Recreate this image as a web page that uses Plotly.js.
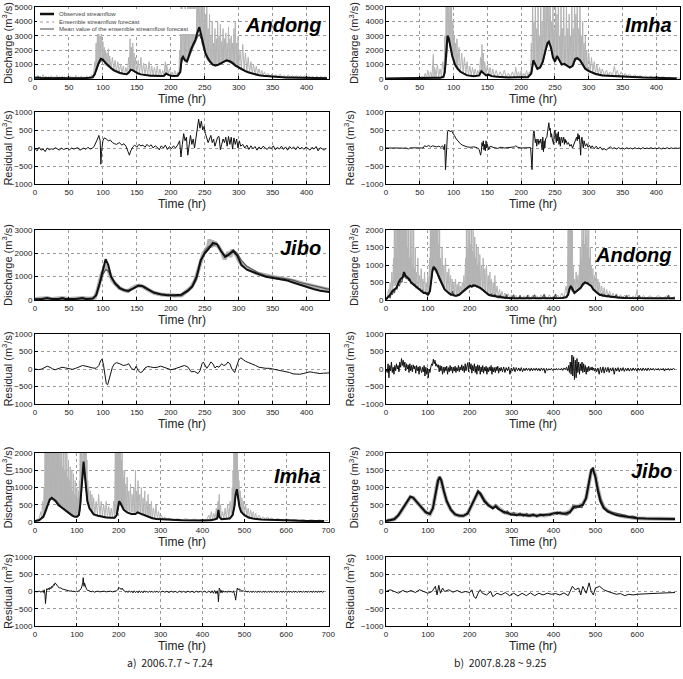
<!DOCTYPE html>
<html><head><meta charset="utf-8">
<script src="https://cdn.plot.ly/plotly-3.0.1.min.js"></script>
<style>html,body{margin:0;padding:0;background:#fff}#chart{width:683px;height:679px}</style>
</head><body><div id="chart"></div>
<script>
// ---------- DATA: [time (hr), discharge or residual (m3/s)] ----------
// a) 2006.7.7~7.24 : Andong
const obsA1 = [[0,80],[5,100],[10,60],[15,90],[20,70],[25,60],[30,80],[35,60],[40,70],[45,60],[50,70],[55,60],[60,80],[65,70],[70,60],[75,70],[80,80],[85,120],[88,350],[91,800],[94,1150],[97,1400],[100,1350],[104,1100],[108,900],[112,750],[116,600],[120,500],[125,420],[130,360],[135,330],[138,450],[141,650],[144,600],[148,480],[152,380],[156,320],[160,280],[165,250],[170,230],[175,220],[180,200],[185,200],[190,230],[193,380],[196,300],[200,220],[205,200],[210,220],[214,500],[216,1400],[218,1550],[221,1300],[224,1250],[227,1700],[230,2100],[233,2400],[236,2700],[239,3200],[242,3600],[245,3000],[248,2300],[251,1800],[254,1500],[258,1200],[262,1000],[266,950],[270,1000],[274,1100],[278,1250],[282,1300],[286,1250],[290,1150],[295,950],[300,800],[305,650],[310,550],[315,450],[320,380],[325,320],[330,260],[340,200],[350,160],[360,130],[370,110],[380,100],[390,90],[400,80],[410,70],[420,70],[430,60]];
const meanA1 = [[0,70],[10,80],[20,60],[30,70],[40,60],[50,70],[60,70],[70,60],[80,70],[85,100],[88,300],[91,700],[94,1050],[97,1250],[100,1300],[104,1150],[108,950],[112,800],[116,650],[120,550],[125,450],[130,380],[135,350],[138,420],[141,600],[144,620],[148,500],[152,400],[156,330],[160,290],[165,260],[170,240],[175,220],[180,210],[185,200],[190,220],[193,330],[196,310],[200,230],[205,200],[210,210],[214,450],[216,1200],[218,1450],[221,1250],[224,1150],[227,1550],[230,1950],[233,2250],[236,2550],[239,2900],[242,3100],[245,2800],[248,2200],[251,1750],[254,1400],[258,1150],[262,950],[266,900],[270,950],[274,1050],[278,1200],[282,1250],[286,1200],[290,1100],[295,900],[300,750],[305,620],[310,520],[315,430],[320,360],[325,300],[330,250],[340,190],[350,150],[360,120],[370,100],[380,90],[390,80],[400,70],[410,60],[420,60],[430,50]];
const ensA1 = [[0,150],[2,60],[4,250],[6,80],[8,180],[10,60],[12,300],[14,70],[16,200],[18,60],[20,150],[22,60],[24,220],[26,70],[28,160],[30,60],[32,250],[34,70],[36,150],[38,60],[40,200],[42,60],[44,150],[46,60],[48,180],[50,60],[52,220],[54,70],[56,150],[58,60],[60,260],[62,70],[64,160],[66,60],[68,200],[70,60],[72,150],[74,60],[76,220],[78,70],[80,180],[82,80],[84,300],[86,150],[88,1200],[89,300],[90,2500],[91,600],[92,3500],[93,900],[94,3800],[95,1100],[96,3000],[97,1200],[98,3600],[99,1300],[100,2600],[101,1200],[102,2200],[103,1000],[104,2000],[105,900],[106,1800],[107,850],[108,2100],[109,800],[110,1600],[112,700],[114,1500],[116,600],[118,1300],[120,500],[122,1200],[124,450],[126,1000],[128,400],[130,900],[132,350],[134,800],[136,330],[138,1500],[139,500],[140,2800],[141,600],[142,2200],[143,600],[144,2500],[145,550],[146,1800],[147,500],[148,1500],[150,400],[152,1300],[154,350],[156,1500],[158,300],[160,1100],[162,280],[164,1000],[166,260],[168,1200],[170,240],[172,900],[174,230],[176,800],[178,220],[180,900],[182,210],[184,700],[186,200],[188,600],[190,230],[192,1200],[193,400],[194,1000],[196,300],[198,700],[200,220],[202,500],[204,200],[206,600],[208,200],[210,500],[212,250],[213,2000],[214,600],[215,5500],[216,1300],[217,5500],[218,1400],[219,4500],[220,1300],[221,5500],[222,1200],[223,4000],[224,1200],[225,5500],[226,1500],[227,5500],[228,1800],[229,5500],[230,2000],[231,5500],[232,2200],[233,5500],[234,2500],[235,5500],[236,2600],[237,5500],[238,3000],[239,5500],[240,3200],[241,5500],[242,3300],[243,5500],[244,2800],[245,5500],[246,2400],[247,5500],[248,2000],[249,5500],[250,1700],[251,4500],[252,1500],[253,5500],[254,1300],[255,3500],[256,1200],[257,4500],[258,1100],[259,3000],[260,1000],[261,4000],[262,950],[263,2500],[264,900],[265,3500],[266,900],[267,2800],[268,950],[269,4000],[270,1000],[271,3000],[272,1050],[273,3800],[274,1100],[275,2600],[276,1150],[277,3500],[278,1200],[279,2800],[280,1250],[281,3200],[282,1250],[283,2500],[284,1200],[285,3600],[286,1150],[287,2800],[288,1100],[289,3000],[290,1050],[291,2500],[292,1000],[293,3500],[294,950],[295,4000],[296,900],[297,2500],[298,850],[299,3000],[300,800],[302,2000],[304,700],[306,2400],[308,600],[310,1800],[312,500],[314,1500],[316,450],[318,1200],[320,380],[322,1000],[324,330],[326,900],[328,300],[330,700],[332,260],[334,600],[336,230],[338,500],[340,200],[343,400],[346,180],[349,350],[352,160],[355,300],[358,140],[361,350],[364,120],[367,250],[370,110],[373,300],[376,100],[379,220],[382,100],[385,250],[388,90],[391,200],[394,90],[397,230],[400,80],[403,200],[406,80],[409,180],[412,70],[415,200],[418,70],[421,180],[424,70],[427,160],[430,60]];
const resA1 = [[0,-20],[3,-80],[6,20],[9,-60],[12,-30],[15,-100],[18,0],[21,-50],[24,-20],[27,-40],[30,10],[33,-30],[36,-60],[39,0],[42,-40],[45,-20],[48,-10],[51,-50],[54,0],[57,-30],[60,-20],[63,10],[66,-60],[69,-20],[72,0],[75,-40],[78,20],[81,-30],[84,-10],[87,40],[90,150],[92,250],[94,350],[96,200],[97,-450],[98,-100],[100,200],[102,280],[105,250],[108,200],[111,220],[114,150],[117,120],[120,100],[124,150],[128,80],[131,120],[134,50],[137,-100],[139,-200],[141,-80],[144,30],[147,80],[150,20],[153,100],[156,60],[159,80],[162,20],[165,100],[168,40],[171,90],[174,0],[177,60],[180,20],[183,-50],[186,60],[189,0],[192,80],[195,-40],[198,40],[201,-20],[204,60],[207,0],[210,80],[213,200],[215,-250],[217,100],[219,400],[221,200],[223,300],[225,-200],[227,150],[229,350],[231,100],[233,250],[235,0],[237,300],[239,600],[241,800],[243,550],[245,750],[247,500],[249,600],[251,400],[253,300],[255,150],[257,250],[259,350],[261,150],[263,250],[265,50],[267,150],[269,300],[271,320],[273,-50],[275,100],[277,250],[279,150],[281,300],[283,50],[285,320],[287,100],[289,300],[291,-30],[293,280],[295,100],[297,250],[299,0],[301,200],[303,50],[306,100],[309,0],[312,80],[315,-40],[318,60],[321,-20],[324,40],[327,-60],[330,30],[333,-30],[336,50],[339,0],[342,-40],[345,30],[348,-20],[351,60],[354,-50],[357,20],[360,-30],[363,50],[366,-40],[369,30],[372,-60],[375,40],[378,-20],[381,30],[384,-50],[387,40],[390,-30],[393,20],[396,-40],[399,30],[402,-20],[405,-60],[408,20],[411,-30],[414,40],[417,-80],[420,10],[423,-30],[426,-60],[429,0]];

// b) 2007 column top : Imha (0-430 hr)
const obsB1 = [[0,30],[10,30],[20,30],[30,30],[40,30],[50,30],[55,40],[60,80],[70,80],[80,90],[85,150],[87,500],[89,1500],[91,3000],[93,2800],[95,2200],[98,1600],[102,1000],[106,700],[110,500],[115,350],[120,250],[130,200],[138,250],[141,550],[144,400],[148,250],[152,300],[156,200],[165,150],[180,100],[195,120],[210,120],[215,400],[218,1300],[221,1000],[224,700],[228,800],[232,1200],[236,2000],[239,2500],[241,2600],[244,2200],[247,1500],[250,1200],[253,1600],[256,1300],[260,1000],[264,1050],[268,900],[272,800],[276,900],[280,1400],[283,1450],[287,1300],[291,1000],[295,700],[300,550],[305,450],[310,350],[320,250],[330,220],[340,200],[350,180],[360,150],[380,100],[400,80],[430,40]];
const meanB1 = [[0,20],[10,30],[20,25],[30,30],[40,25],[50,30],[55,40],[60,60],[70,70],[80,80],[85,120],[87,400],[89,1300],[91,2800],[93,2700],[95,2200],[98,1600],[102,1050],[106,750],[110,540],[115,380],[120,270],[130,210],[138,250],[141,500],[144,420],[148,280],[152,280],[156,210],[165,160],[180,110],[195,120],[210,120],[215,350],[218,1200],[221,1000],[224,700],[228,780],[232,1150],[236,1900],[239,2400],[241,2500],[244,2200],[247,1550],[250,1250],[253,1550],[256,1300],[260,1050],[264,1000],[268,900],[272,820],[276,900],[280,1300],[283,1400],[287,1300],[291,1050],[295,750],[300,580],[305,470],[310,370],[320,270],[330,230],[340,210],[350,190],[360,160],[380,110],[400,90],[430,50]];
const ensB1 = [[0,20],[5,60],[10,20],[15,50],[20,20],[25,60],[30,20],[35,50],[40,20],[45,60],[50,30],[54,200],[56,50],[58,400],[60,80],[62,600],[64,100],[66,500],[68,100],[70,1700],[71,150],[72,800],[74,150],[76,1000],[78,150],[80,700],[82,200],[84,1200],[86,300],[87,3000],[88,800],[89,5500],[90,1500],[91,5500],[92,2500],[93,5500],[94,2500],[95,5500],[96,2000],[97,5000],[98,1600],[99,4000],[100,1300],[101,3000],[102,1000],[103,2500],[104,800],[105,2800],[106,700],[108,2200],[110,500],[112,1800],[114,400],[116,1500],[118,300],[120,1200],[122,280],[124,900],[126,250],[128,800],[130,220],[132,700],[134,220],[136,600],[138,250],[140,1500],[141,500],[142,2400],[143,500],[144,1800],[145,400],[146,1200],[148,300],[150,1000],[152,250],[154,800],[156,200],[158,700],[160,180],[163,600],[166,150],[169,500],[172,140],[175,600],[178,130],[181,400],[184,120],[187,500],[190,120],[192,800],[194,150],[196,500],[198,120],[200,600],[202,120],[204,400],[206,130],[208,600],[210,130],[212,500],[214,300],[215,2500],[216,1000],[217,5500],[218,1300],[219,4000],[220,1000],[221,5500],[222,800],[223,3500],[224,700],[225,5500],[226,750],[227,3000],[228,800],[229,5500],[230,900],[231,4000],[232,1200],[233,5500],[234,1600],[235,5500],[236,2000],[237,5500],[238,2400],[239,5500],[240,2500],[241,5500],[242,2500],[243,5500],[244,2200],[245,4000],[246,1800],[247,5500],[248,1400],[249,3500],[250,1200],[251,5500],[252,1400],[253,4500],[254,1500],[255,5500],[256,1300],[257,3000],[258,1100],[259,5500],[260,1000],[261,3500],[262,1000],[263,5500],[264,1050],[265,3000],[266,1000],[267,5500],[268,900],[269,3500],[270,850],[271,4500],[272,800],[273,3000],[274,850],[275,5500],[276,900],[277,3500],[278,1100],[279,5500],[280,1400],[281,4500],[282,1450],[283,5500],[284,1400],[285,3500],[286,1300],[287,5500],[288,1200],[289,3000],[290,1000],[291,4000],[292,900],[293,2500],[294,750],[295,3000],[296,700],[297,2000],[298,600],[300,1800],[302,550],[304,1500],[306,450],[308,1200],[310,350],[312,1000],[314,300],[316,800],[318,280],[320,700],[323,260],[326,600],[329,240],[332,500],[335,220],[338,900],[340,210],[342,600],[345,200],[348,500],[351,180],[354,400],[357,160],[360,350],[364,150],[368,300],[372,130],[376,250],[380,110],[384,220],[388,100],[392,200],[396,90],[400,180],[405,80],[410,150],[415,70],[420,130],[425,60],[430,100],[435,40]];
const resB1 = [[0,0],[5,5],[10,-5],[15,5],[20,0],[25,-5],[30,0],[33,-30],[35,0],[40,5],[45,0],[50,5],[55,0],[57,60],[60,40],[63,70],[66,30],[69,60],[72,40],[75,30],[78,50],[81,20],[84,60],[86,-50],[87,100],[88,-600],[89,-300],[90,300],[91,450],[93,500],[95,450],[97,480],[99,400],[101,350],[104,250],[107,180],[110,120],[113,80],[116,50],[120,30],[125,20],[130,30],[135,10],[138,-50],[140,-200],[141,-100],[142,150],[143,50],[144,200],[145,-50],[146,100],[147,-80],[148,200],[149,0],[150,100],[152,-50],[154,50],[157,20],[160,10],[165,-10],[170,20],[175,0],[180,10],[185,0],[190,30],[192,60],[195,20],[200,0],[205,10],[210,5],[214,10],[216,-600],[217,100],[218,400],[219,480],[220,300],[221,150],[222,250],[223,50],[224,200],[225,250],[226,100],[227,200],[228,150],[229,250],[230,100],[231,-50],[232,300],[233,-100],[234,200],[235,0],[236,250],[238,300],[239,450],[240,600],[241,700],[242,500],[243,550],[244,300],[245,400],[246,250],[247,200],[248,100],[249,450],[250,500],[251,300],[252,150],[253,400],[254,200],[255,450],[256,100],[257,300],[258,50],[259,250],[260,300],[261,150],[262,200],[263,300],[264,100],[265,250],[266,150],[267,200],[268,100],[270,150],[272,50],[274,100],[276,0],[278,100],[280,150],[282,300],[283,200],[284,400],[285,250],[286,350],[287,100],[288,-200],[289,250],[290,300],[291,100],[292,0],[293,200],[295,50],[297,120],[299,20],[301,80],[303,0],[305,60],[308,-20],[311,50],[314,-30],[317,30],[320,-50],[323,-20],[326,-60],[329,0],[332,30],[335,-20],[338,10],[341,-30],[344,10],[347,-20],[350,0],[353,-30],[356,10],[359,-20],[362,0],[365,-30],[368,10],[371,-20],[374,0],[377,-30],[380,10],[383,-20],[386,0],[389,-20],[392,10],[395,-20],[398,0],[401,-20],[404,10],[407,-30],[410,0],[413,-20],[416,10],[419,-20],[422,5],[425,-15],[428,0],[431,-10],[435,0]];

// a) Jibo
const obsA2 = [[0,30],[10,40],[18,80],[25,40],[35,40],[40,80],[45,40],[60,40],[70,80],[75,40],[85,60],[90,200],[95,700],[100,1300],[104,1750],[108,1500],[112,1000],[118,700],[125,500],[132,420],[138,400],[145,500],[152,620],[158,600],[165,480],[175,320],[185,250],[195,200],[205,200],[215,220],[225,400],[232,600],[238,1000],[244,1700],[250,2000],[256,2200],[262,2450],[268,2400],[274,2100],[280,1850],[286,1950],[292,2100],[298,1900],[304,1500],[312,1300],[320,1200],[330,1100],[340,1000],[350,950],[360,900],[370,850],[380,750],[390,650],[400,550],[410,470],[420,400],[430,350],[435,330]];
const meanA2 = [[0,30],[10,40],[18,70],[25,40],[35,40],[40,70],[45,40],[60,40],[70,70],[75,40],[85,60],[90,180],[95,600],[100,1100],[104,1300],[108,1250],[112,1000],[118,750],[125,550],[132,400],[138,350],[145,520],[152,600],[158,580],[165,450],[175,300],[185,230],[195,200],[205,180],[215,180],[225,350],[232,550],[238,900],[244,1600],[250,2100],[256,2300],[262,2350],[268,2400],[274,2100],[280,1900],[286,2000],[292,2150],[298,2000],[304,1700],[312,1450],[320,1300],[330,1150],[340,1050],[350,1000],[360,950],[370,900],[380,850],[390,750],[400,680],[410,600],[420,520],[430,480],[435,460]];
const ensA2 = [[0,40],[10,50],[18,90],[25,40],[40,90],[50,40],[70,90],[80,50],[88,100],[92,400],[95,800],[98,1100],[101,1300],[104,1450],[107,1350],[110,1100],[114,850],[118,700],[124,520],[130,430],[136,380],[142,480],[148,580],[154,620],[160,560],[168,420],[176,300],[186,240],[196,200],[206,190],[216,200],[224,380],[230,550],[236,850],[240,1200],[244,1650],[248,2000],[252,2150],[255,2300],[257,2600],[259,2250],[261,2550],[263,2300],[265,2500],[267,2350],[270,2300],[273,2150],[276,2000],[279,1750],[282,1900],[285,2050],[288,1850],[290,2150],[292,2050],[295,2000],[298,1850],[301,1650],[305,1500],[310,1400],[318,1270],[326,1150],[335,1080],[345,1000],[355,960],[365,920],[375,870],[385,780],[395,700],[405,620],[415,540],[425,470],[435,420]];
const resA2 = [[0,0],[5,-20],[10,0],[15,50],[18,80],[22,50],[26,0],[30,-20],[35,10],[40,50],[45,30],[50,0],[55,-10],[60,20],[65,50],[70,100],[75,80],[80,50],[85,30],[90,20],[94,100],[97,250],[99,280],[101,100],[103,-200],[105,-420],[107,-450],[109,-300],[111,-100],[114,50],[117,150],[120,180],[125,150],[130,100],[135,120],[138,150],[142,20],[146,-30],[149,80],[152,-50],[155,-100],[158,-80],[162,30],[166,70],[170,60],[175,40],[180,50],[185,80],[190,50],[195,20],[200,-20],[205,0],[210,40],[215,80],[220,100],[225,60],[230,-80],[235,-70],[240,-130],[243,-50],[246,150],[248,200],[251,100],[253,20],[256,100],[259,200],[262,150],[265,30],[268,80],[271,50],[275,150],[278,100],[281,120],[284,200],[287,150],[290,0],[294,-100],[297,50],[300,250],[303,320],[306,280],[310,220],[315,180],[320,150],[325,100],[330,50],[335,30],[340,20],[345,20],[350,0],[355,-10],[360,-30],[365,-50],[370,-80],[375,-100],[380,-140],[385,-150],[390,-150],[395,-130],[400,-100],[405,-80],[410,-100],[415,-120],[420,-130],[425,-120],[430,-110],[435,-110]];

// b) Andong (0-700 hr)
const obsB2 = [[0,20],[5,80],[10,150],[15,250],[20,300],[25,350],[30,500],[35,600],[40,650],[43,800],[46,700],[50,650],[55,600],[60,500],[65,450],[70,400],[75,350],[80,300],[85,250],[90,200],[95,200],[100,150],[105,250],[108,600],[111,850],[114,950],[117,900],[120,850],[125,700],[130,550],[135,400],[140,300],[145,250],[150,200],[155,150],[160,150],[165,120],[170,130],[175,150],[180,200],[185,250],[190,300],[195,350],[200,400],[205,380],[210,420],[215,400],[220,380],[225,350],[230,300],[235,250],[240,200],[245,150],[250,130],[255,120],[260,100],[270,80],[280,70],[290,60],[300,50],[320,50],[340,50],[360,50],[380,50],[400,50],[420,60],[430,80],[435,150],[438,300],[441,400],[444,350],[447,250],[450,200],[455,250],[460,300],[465,350],[470,450],[475,500],[480,480],[485,450],[490,400],[495,300],[500,250],[505,200],[510,150],[520,120],[530,100],[540,80],[550,80],[570,60],[600,50],[630,50],[660,50],[690,50]];
const meanB2 = [[0,10],[4,60],[8,120],[10,50],[12,200],[15,150],[18,300],[20,200],[23,350],[26,300],[29,450],[32,400],[35,550],[38,500],[41,700],[44,650],[46,750],[48,600],[51,650],[54,550],[57,600],[60,480],[63,500],[66,420],[69,450],[72,350],[75,380],[78,300],[81,320],[84,250],[87,280],[90,200],[93,230],[96,170],[99,200],[102,150],[105,300],[108,550],[111,800],[113,950],[115,850],[117,900],[120,780],[123,750],[126,620],[129,550],[132,450],[135,400],[138,330],[141,300],[144,250],[147,230],[150,180],[153,200],[156,140],[159,250],[162,120],[165,130],[168,110],[171,150],[174,160],[177,180],[180,220],[183,260],[186,280],[189,320],[192,340],[195,380],[198,350],[201,420],[204,380],[207,430],[210,400],[213,420],[216,380],[219,400],[222,350],[225,330],[228,300],[231,280],[234,240],[237,220],[240,180],[243,160],[246,150],[249,130],[252,180],[254,110],[257,100],[260,170],[262,90],[266,80],[270,60],[273,150],[275,60],[280,60],[285,50],[288,160],[290,50],[295,40],[300,40],[305,150],[307,40],[312,40],[318,40],[320,130],[322,40],[328,40],[335,40],[338,140],[340,40],[348,40],[355,150],[357,40],[365,40],[372,40],[378,160],[380,40],[388,40],[395,40],[400,40],[405,170],[407,40],[415,50],[425,60],[432,80],[435,200],[437,350],[439,300],[441,420],[443,300],[446,250],[449,200],[452,220],[455,250],[458,270],[461,320],[464,350],[467,380],[470,420],[473,460],[476,500],[479,470],[482,490],[485,430],[488,420],[491,380],[494,330],[497,300],[500,260],[503,220],[506,190],[509,160],[512,140],[515,180],[518,110],[521,160],[524,100],[528,90],[532,150],[535,80],[540,80],[545,70],[550,150],[552,60],[560,60],[570,50],[575,130],[577,50],[585,50],[595,50],[600,50],[605,130],[607,50],[615,40],[625,40],[640,40],[655,40],[670,40],[675,140],[677,40],[690,40]];
const ensB2 = [[0,20],[3,100],[6,300],[8,150],[10,500],[12,200],[14,800],[16,300],[18,1200],[19,400],[20,2500],[21,500],[22,2500],[23,400],[24,1500],[25,450],[26,2500],[27,500],[28,2500],[29,500],[30,2500],[31,550],[32,2500],[33,600],[34,2500],[35,600],[36,2500],[37,650],[38,2500],[39,700],[40,2500],[41,700],[42,2500],[43,750],[44,2500],[45,700],[46,2500],[47,700],[48,2000],[49,650],[50,2500],[51,650],[52,1500],[53,600],[54,2500],[55,600],[56,1200],[57,550],[58,2500],[59,550],[60,1300],[61,500],[62,2500],[63,500],[64,1000],[65,450],[66,2500],[67,450],[68,900],[69,420],[70,1500],[71,400],[72,800],[74,380],[76,1200],[78,350],[80,700],[82,300],[84,900],[86,270],[88,600],[90,250],[92,800],[94,200],[96,500],[98,200],[100,700],[102,180],[104,1200],[105,300],[106,2500],[107,500],[108,2500],[109,700],[110,2500],[111,850],[112,2500],[113,950],[114,2500],[115,900],[116,2500],[117,900],[118,2500],[119,850],[120,2500],[121,800],[122,2000],[123,750],[124,2500],[125,700],[126,1600],[127,650],[128,2000],[129,600],[130,1200],[132,500],[134,1500],[136,400],[138,1000],[140,350],[142,1200],[144,300],[146,800],[148,250],[150,900],[152,220],[154,700],[156,200],[158,600],[160,170],[162,500],[164,150],[166,600],[168,140],[170,450],[172,150],[174,500],[176,170],[178,400],[180,200],[182,500],[184,250],[186,700],[188,280],[190,1200],[191,300],[192,2000],[193,330],[194,1500],[195,350],[196,2500],[197,380],[198,1700],[199,400],[200,2500],[201,400],[202,1600],[203,400],[204,2200],[205,400],[206,1400],[207,420],[208,2000],[209,400],[210,1300],[211,400],[212,1800],[213,400],[214,1200],[215,400],[216,1600],[217,380],[218,1000],[219,380],[220,1500],[221,350],[222,1100],[223,350],[224,1300],[226,330],[228,1000],[230,300],[232,1200],[234,250],[236,900],[238,220],[240,1000],[242,180],[244,700],[246,150],[248,800],[250,130],[252,600],[254,110],[256,500],[258,100],[260,700],[262,90],[265,400],[268,80],[271,300],[274,70],[277,250],[280,60],[284,200],[288,50],[292,180],[296,50],[300,150],[305,50],[310,130],[315,50],[320,140],[325,50],[330,120],[335,50],[340,150],[345,50],[350,130],[355,50],[360,120],[365,50],[370,140],[375,50],[380,120],[385,50],[390,150],[395,50],[400,120],[405,50],[410,140],[415,50],[420,200],[425,60],[430,400],[433,100],[435,2500],[436,200],[437,2500],[438,300],[439,2500],[440,350],[441,2500],[442,300],[443,2500],[444,250],[445,2000],[446,220],[447,1000],[448,200],[450,600],[452,220],[454,800],[456,250],[458,700],[460,280],[462,1000],[463,300],[464,1500],[465,330],[466,1200],[467,350],[468,2500],[469,380],[470,1700],[471,420],[472,2500],[473,450],[474,1600],[475,500],[476,2500],[477,480],[478,1800],[479,470],[480,2500],[481,480],[482,1500],[483,460],[484,2000],[485,430],[486,1200],[487,420],[488,1500],[489,400],[490,1000],[492,350],[494,900],[496,300],[498,700],[500,260],[502,800],[504,220],[506,600],[508,180],[510,500],[512,150],[515,400],[518,120],[521,350],[524,100],[527,300],[530,90],[534,250],[538,80],[542,200],[546,70],[550,180],[555,60],[560,150],[565,60],[570,140],[575,50],[580,150],[585,50],[590,120],[595,50],[600,300],[601,50],[605,120],[610,50],[615,130],[620,40],[630,120],[640,40],[650,130],[660,40],[670,120],[680,40],[690,100]];
const resB2 = [[0,0],[3,-100],[5,150],[7,-250],[9,100],[11,-50],[13,200],[15,-100],[17,50],[19,-150],[21,100],[23,-50],[25,150],[27,0],[29,100],[31,-80],[33,200],[35,50],[37,300],[39,100],[41,250],[43,50],[45,200],[47,-50],[49,150],[51,0],[53,120],[55,-100],[57,150],[59,-50],[61,100],[63,-80],[65,120],[67,0],[69,80],[71,-120],[73,100],[75,-50],[77,60],[79,-150],[81,80],[83,0],[85,-100],[87,50],[89,-80],[91,100],[93,-200],[95,50],[97,-150],[99,30],[101,-250],[103,0],[105,-100],[107,50],[109,150],[111,100],[113,280],[115,150],[117,250],[119,80],[121,150],[123,50],[125,120],[127,-80],[129,100],[131,-50],[133,80],[135,-150],[137,50],[139,-100],[141,60],[143,-50],[145,80],[147,-150],[149,40],[151,-80],[153,100],[155,-50],[157,60],[159,-120],[161,50],[163,-60],[165,80],[167,-100],[169,40],[171,-50],[173,100],[175,-80],[177,60],[179,-30],[181,120],[183,-50],[185,80],[187,-100],[189,150],[191,-50],[193,100],[195,180],[197,-80],[199,200],[201,0],[203,150],[205,-120],[207,100],[209,-50],[211,150],[213,-100],[215,80],[217,-150],[219,120],[221,-50],[223,100],[225,-150],[227,60],[229,-80],[231,100],[233,-120],[235,50],[237,-60],[239,80],[241,-150],[243,40],[245,-80],[247,60],[249,-50],[251,100],[253,-150],[255,50],[257,-80],[259,40],[261,-100],[263,60],[265,-50],[267,80],[269,-120],[271,30],[273,-60],[275,50],[278,-80],[281,60],[284,-100],[287,40],[290,-50],[293,60],[296,-150],[299,30],[302,-60],[305,50],[308,-80],[311,40],[314,-50],[317,30],[320,-60],[323,40],[326,-80],[329,20],[332,-50],[335,30],[338,-40],[341,20],[344,-60],[347,30],[350,-50],[353,20],[356,-40],[359,30],[362,-50],[365,20],[368,-60],[371,30],[374,-40],[377,20],[380,-120],[383,20],[386,-40],[389,10],[392,-30],[395,20],[398,-40],[401,10],[404,-30],[407,20],[410,-20],[413,10],[416,-30],[419,20],[422,-40],[425,30],[428,-20],[431,50],[434,-50],[436,100],[438,-100],[440,200],[442,-150],[444,400],[446,-200],[448,350],[450,-300],[452,250],[454,-250],[456,300],[458,-100],[460,200],[462,-150],[464,150],[466,-50],[468,200],[470,-100],[472,150],[474,-80],[476,100],[478,-150],[480,50],[482,-80],[484,80],[486,-50],[488,40],[490,-30],[492,60],[494,-40],[496,30],[498,-60],[500,20],[503,-80],[506,30],[509,-150],[512,50],[515,-100],[518,60],[521,-120],[524,40],[527,-80],[530,50],[533,-100],[536,30],[539,-60],[542,40],[545,-150],[548,30],[551,-60],[554,40],[557,-80],[560,30],[563,-50],[566,40],[569,-70],[572,20],[575,-50],[578,30],[581,-60],[584,20],[587,-50],[590,30],[593,-40],[596,20],[599,-60],[602,30],[605,-40],[608,20],[611,-50],[614,30],[617,-40],[620,20],[623,-50],[626,30],[629,-40],[632,20],[635,-30],[638,20],[641,-40],[644,10],[647,-30],[650,20],[653,-40],[656,10],[659,-30],[662,20],[665,-60],[668,10],[671,-30],[674,20],[677,-40],[680,10],[683,-30],[686,20],[690,-20]];

// a) Imha (0-700 hr)
const obsA3 = [[0,30],[10,50],[15,100],[20,150],[25,300],[30,450],[35,650],[40,700],[45,650],[50,600],[55,500],[60,450],[65,400],[70,350],[75,300],[80,250],[85,220],[90,180],[95,150],[100,150],[105,200],[108,500],[111,1000],[114,1500],[116,1750],[118,1500],[121,1000],[125,600],[130,400],[135,300],[140,220],[150,180],[160,150],[170,130],[180,120],[190,120],[195,200],[198,400],[201,600],[204,550],[208,450],[212,350],[220,280],[230,230],[240,230],[245,280],[250,250],[260,200],[270,150],[280,110],[290,90],[300,80],[320,60],[350,50],[400,40],[420,50],[430,80],[435,100],[438,350],[440,150],[445,80],[455,90],[465,100],[472,200],[476,450],[479,800],[482,950],[485,700],[488,450],[492,300],[500,200],[510,130],[520,100],[540,70],[560,60],[580,50],[600,40],[650,30],[690,30]];
const meanA3 = [[0,30],[10,60],[15,120],[20,180],[25,350],[30,500],[35,620],[40,680],[45,670],[50,620],[55,540],[60,480],[65,420],[70,370],[75,320],[80,270],[85,230],[90,190],[95,160],[100,150],[105,190],[108,450],[111,900],[114,1350],[116,1600],[118,1450],[121,1000],[125,620],[130,420],[135,310],[140,230],[150,190],[160,160],[170,140],[180,125],[190,120],[195,180],[198,370],[201,560],[204,530],[208,440],[212,350],[220,290],[230,240],[240,240],[245,280],[250,260],[260,210],[270,160],[280,120],[290,95],[300,85],[320,65],[350,55],[400,45],[420,55],[430,80],[435,100],[438,250],[440,160],[445,90],[455,95],[465,110],[472,210],[476,420],[479,750],[482,900],[485,700],[488,460],[492,310],[500,210],[510,140],[520,105],[540,75],[560,65],[580,55],[600,45],[650,35],[690,35]];
const ensA3 = [[0,30],[5,60],[10,100],[14,300],[16,100],[18,600],[20,150],[22,1000],[23,200],[24,2500],[25,300],[26,2500],[27,400],[28,2500],[29,450],[30,2500],[31,500],[32,2500],[33,550],[34,2500],[35,600],[36,2500],[37,650],[38,2500],[39,650],[40,2500],[41,650],[42,2500],[43,620],[44,2500],[45,600],[46,2500],[47,580],[48,2500],[49,560],[50,2500],[51,540],[52,2500],[53,520],[54,2500],[55,500],[56,2500],[57,480],[58,2000],[59,460],[60,2500],[61,450],[62,1800],[63,430],[64,2500],[65,400],[66,1600],[67,380],[68,2500],[69,360],[70,1500],[71,350],[72,2200],[73,330],[74,1500],[75,300],[76,2000],[77,280],[78,1300],[79,260],[80,1800],[81,250],[82,1200],[83,230],[84,1600],[85,220],[86,1000],[87,200],[88,1500],[89,190],[90,900],[91,180],[92,1400],[93,170],[94,800],[95,160],[96,1200],[97,160],[98,800],[99,160],[100,1000],[101,160],[102,700],[103,170],[104,900],[105,200],[106,1200],[107,300],[108,2500],[109,500],[110,2500],[111,900],[112,2500],[113,1200],[114,2500],[115,1500],[116,2500],[117,1600],[118,2500],[119,1400],[120,2500],[121,1000],[122,2500],[123,700],[124,1800],[125,600],[126,1200],[127,500],[128,1000],[130,400],[132,900],[134,330],[136,800],[138,260],[140,700],[143,220],[146,600],[149,200],[152,800],[155,180],[158,600],[161,160],[164,500],[167,150],[170,600],[173,140],[176,450],[179,130],[182,400],[185,120],[188,600],[190,150],[192,2500],[193,250],[194,2500],[195,300],[196,2500],[197,400],[198,2500],[199,500],[200,2500],[201,600],[202,2500],[203,580],[204,2200],[205,550],[206,1800],[207,500],[208,2000],[209,450],[210,1500],[211,420],[212,1300],[213,400],[214,1500],[215,380],[216,1100],[218,350],[220,1300],[222,320],[224,900],[226,300],[228,1100],[230,280],[232,800],[234,270],[236,1000],[238,270],[240,1500],[241,280],[242,900],[244,290],[246,1200],[248,280],[250,800],[252,250],[254,1000],[256,230],[258,700],[260,200],[262,900],[264,180],[266,600],[268,160],[270,800],[272,140],[274,500],[276,120],[278,600],[280,110],[283,400],[286,100],[289,500],[292,90],[295,300],[298,80],[302,200],[306,70],[310,150],[315,60],[320,120],[330,50],[340,100],[350,50],[360,100],[370,40],[380,90],[390,40],[400,80],[410,60],[415,200],[418,60],[421,300],[424,70],[427,250],[430,90],[433,400],[435,100],[437,600],[438,300],[440,800],[441,150],[443,500],[445,90],[448,300],[451,90],[454,400],[457,100],[460,500],[463,110],[466,600],[469,150],[471,1000],[472,200],[473,1500],[474,300],[475,2500],[476,450],[477,2500],[478,700],[479,2500],[480,850],[481,2500],[482,950],[483,2500],[484,800],[485,1500],[486,700],[487,1200],[488,500],[490,900],[492,350],[494,700],[496,280],[498,600],[500,220],[503,500],[506,180],[509,400],[512,140],[515,350],[518,120],[521,300],[524,100],[527,250],[530,90],[535,200],[540,80],[545,150],[550,70],[555,150],[560,60],[565,120],[570,55],[580,100],[590,50],[600,90],[610,45],[620,80],[630,40],[640,70],[650,35],[660,70],[670,35],[680,60],[690,30],[700,50]];
const resA3 = [[0,0],[5,-10],[10,10],[15,-20],[18,20],[20,-30],[22,50],[24,-100],[25,-350],[26,-50],[28,80],[30,50],[32,100],[34,50],[36,120],[38,80],[40,150],[42,120],[44,200],[46,180],[48,250],[50,220],[52,180],[54,150],[56,130],[58,100],[60,110],[63,80],[66,70],[69,60],[72,50],[75,40],[78,20],[81,30],[84,10],[87,20],[90,0],[93,10],[96,-10],[99,10],[102,0],[105,20],[108,50],[110,80],[112,150],[114,250],[115,400],[116,300],[117,150],[118,250],[119,200],[120,150],[122,100],[124,50],[126,30],[130,20],[134,-10],[138,10],[142,-20],[146,0],[150,10],[155,-10],[160,0],[165,10],[170,-10],[175,0],[180,10],[185,-10],[190,0],[195,20],[198,60],[200,120],[202,100],[204,80],[206,60],[208,100],[210,50],[213,30],[216,-20],[219,10],[222,-30],[225,20],[228,-20],[231,10],[234,-40],[237,20],[240,-30],[243,10],[246,-40],[249,20],[252,-30],[255,10],[258,-40],[261,20],[264,-20],[267,10],[270,-30],[273,10],[276,-20],[279,10],[282,-30],[285,10],[288,-20],[291,10],[294,-30],[297,5],[300,-20],[305,10],[310,-20],[315,5],[320,-30],[325,10],[330,-20],[335,5],[340,-30],[345,10],[350,-20],[355,5],[360,-30],[365,10],[370,-20],[375,5],[380,-30],[385,10],[390,-20],[395,5],[400,-20],[405,10],[410,-30],[415,10],[420,-40],[423,20],[426,-50],[429,30],[432,-60],[435,20],[437,-100],[438,-300],[439,-150],[440,100],[442,50],[444,-40],[446,30],[448,-30],[450,20],[453,-20],[456,10],[459,-30],[462,20],[465,-20],[468,10],[471,-30],[474,20],[476,-50],[478,-150],[479,-250],[480,-100],[481,50],[483,100],[485,50],[487,80],[489,30],[491,50],[494,0],[497,30],[500,-10],[503,20],[506,-20],[509,10],[512,-20],[515,10],[518,-30],[521,10],[524,-20],[527,10],[530,-30],[533,10],[536,-20],[539,10],[542,-30],[545,10],[548,-20],[551,10],[554,-30],[557,10],[560,-20],[563,10],[566,-30],[569,10],[572,-20],[575,10],[578,-30],[581,10],[584,-20],[587,10],[590,-30],[593,10],[596,-20],[599,10],[602,-30],[605,10],[608,-20],[611,10],[614,-30],[617,10],[620,-20],[623,10],[626,-30],[629,10],[632,-20],[635,10],[638,-30],[641,10],[644,-20],[647,10],[650,-30],[653,10],[656,-20],[659,10],[662,-30],[665,10],[668,-20],[671,10],[674,-30],[677,10],[680,-20],[683,10],[686,-20],[690,0]];

// b) Jibo (0-700 hr)
const obsB3 = [[0,30],[10,50],[20,80],[30,200],[40,400],[50,600],[58,730],[65,700],[75,550],[85,400],[95,280],[105,230],[112,400],[118,800],[124,1200],[128,1300],[132,1200],[138,900],[145,600],[155,350],[165,220],[175,180],[185,180],[195,250],[205,500],[213,750],[220,880],[226,800],[235,600],[245,480],[255,400],[262,450],[268,380],[280,300],[290,250],[300,220],[310,200],[320,220],[330,200],[340,180],[350,200],[360,180],[370,200],[380,200],[390,220],[400,250],[410,270],[420,250],[430,250],[440,300],[450,450],[460,450],[470,500],[478,700],[485,1200],[490,1500],[494,1550],[500,1300],[506,900],[512,600],[520,400],[530,300],[540,250],[550,200],[560,180],[570,160],[580,140],[590,120],[600,110],[620,100],[640,100],[660,90],[690,90]];
const meanB3 = [[0,40],[10,60],[20,100],[30,220],[40,420],[50,620],[58,750],[65,720],[75,560],[85,420],[95,300],[105,250],[112,380],[118,750],[124,1150],[128,1320],[132,1250],[138,950],[145,620],[155,380],[165,240],[175,190],[185,180],[195,230],[205,480],[213,720],[220,900],[226,850],[235,650],[245,500],[255,380],[262,500],[268,420],[275,320],[283,250],[290,320],[298,200],[305,280],[312,180],[320,260],[328,160],[336,250],[344,160],[352,240],[360,150],[368,230],[376,170],[384,230],[392,190],[400,260],[408,220],[416,290],[424,220],[432,200],[440,260],[446,470],[452,400],[460,430],[468,420],[476,650],[484,1150],[490,1450],[494,1500],[500,1350],[506,1000],[512,700],[520,450],[530,330],[540,280],[550,260],[560,240],[570,200],[580,150],[590,170],[600,130],[610,110],[620,100],[640,90],[660,80],[690,80]];
const ensB3 = [[0,30],[10,50],[20,80],[30,200],[40,400],[50,600],[58,720],[65,700],[75,550],[85,400],[95,280],[105,230],[112,400],[118,800],[124,1200],[128,1300],[132,1200],[138,900],[145,600],[155,350],[165,220],[175,180],[185,180],[195,250],[205,500],[213,750],[220,870],[226,800],[235,620],[245,480],[255,420],[262,470],[268,400],[280,300],[290,250],[300,230],[310,220],[320,210],[330,210],[340,190],[350,200],[360,180],[370,200],[380,190],[390,220],[400,250],[410,270],[420,250],[430,260],[440,320],[450,450],[460,460],[470,520],[478,700],[485,1200],[490,1480],[494,1550],[500,1350],[506,950],[512,650],[520,420],[530,320],[540,260],[550,210],[560,180],[570,160],[580,140],[590,120],[600,110],[620,100],[640,100],[660,90],[690,90]];
const resB3 = [[0,0],[10,50],[20,0],[30,-50],[40,30],[50,-20],[60,30],[70,-30],[80,50],[90,0],[100,-50],[110,0],[118,150],[122,-100],[126,180],[130,-50],[135,100],[140,0],[150,50],[160,-20],[170,30],[180,-30],[190,0],[200,-30],[205,50],[210,-150],[215,-200],[220,-50],[225,50],[230,-50],[240,-100],[250,0],[255,-150],[265,-50],[275,-100],[285,-30],[295,-120],[305,-50],[315,-130],[325,-50],[335,-120],[345,-40],[355,-120],[365,-50],[375,-100],[385,-50],[395,-80],[405,-60],[415,-100],[425,-40],[435,-120],[445,150],[452,50],[460,100],[465,-100],[470,150],[478,-50],[485,250],[490,0],[495,-100],[500,100],[510,150],[520,50],[530,0],[540,-50],[550,-80],[560,-60],[570,-120],[580,-80],[590,-100],[600,-80],[620,-60],[650,-50],[690,-30]];

// text
const stationNames = ["Andong","Imha","Jibo","Andong","Imha","Jibo"];
const captions = ["a)  2006.7.7 ~ 7.24","b)  2007.8.28 ~ 9.25"];
const legendNames = ["Observed streamflow","Ensemble streamflow forecast","Mean value of the ensemble streamflow forecast"];

// ---------- LAYOUT HELPERS ----------
const W = 683, H = 679;
const colX = [[35,329],[386,680]];
const rowsPx = [[7,79],[112,184],[230,300],[334,404],[453,522],[557,626]];
const xd = c => [colX[c][0]/W, colX[c][1]/W];
const yd = r => [1 - rowsPx[r][1]/H, 1 - rowsPx[r][0]/H];
const px = v => v/W, py = v => 1 - v/H;

const axisBase = {
  showline:true, mirror:true, linecolor:'#000', linewidth:1,
  showgrid:true, gridcolor:'#9a9a9a', griddash:'dot', gridwidth:1,
  zeroline:false, ticks:'inside', ticklen:3, tickcolor:'#000',
  tickfont:{family:'Arial, Liberation Sans', size:8, color:'#222'}
};

const panels = [
  {c:0,r:0,obs:obsA1,mean:meanA1,ens:ensA1,res:resA1,xmax:433,xdt:50,ymax:5000,ydt:1000,spiky:true},
  {c:1,r:0,obs:obsB1,mean:meanB1,ens:ensB1,res:resB1,xmax:435,xdt:50,ymax:5000,ydt:1000,spiky:true},
  {c:0,r:2,obs:obsA2,mean:meanA2,ens:ensA2,res:resA2,xmax:433,xdt:50,ymax:3000,ydt:1000,spiky:false},
  {c:1,r:2,obs:obsB2,mean:meanB2,ens:ensB2,res:resB2,xmax:702,xdt:100,ymax:2000,ydt:500,spiky:true},
  {c:0,r:4,obs:obsA3,mean:meanA3,ens:ensA3,res:resA3,xmax:702,xdt:100,ymax:2000,ydt:500,spiky:true},
  {c:1,r:4,obs:obsB3,mean:meanB3,ens:ensB3,res:resB3,xmax:702,xdt:100,ymax:2000,ydt:500,spiky:false}
];

const X = a => a.map(p=>p[0]), Y = a => a.map(p=>p[1]);
const traces = [];
const layout = {
  width:W, height:H, margin:{l:0,r:0,t:0,b:0},
  paper_bgcolor:'#fff', plot_bgcolor:'#fff', showlegend:false,
  annotations:[], shapes:[], font:{family:'Arial, Liberation Sans'}
};
const titleFont = {family:'Arial, Liberation Sans', size:12, color:'#222'};
const ytFont = {family:'Arial, Liberation Sans', size:11, color:'#222'};

let ax = 1;
panels.forEach((p) => {
  const dIdx = ax++, rIdx = ax++;
  const dS = dIdx===1 ? '' : String(dIdx);
  const dx = 'x'+dS, dy = 'y'+dS, rx = 'x'+rIdx, ry = 'y'+rIdx;
  layout['xaxis'+dS] = Object.assign({}, axisBase, {domain:xd(p.c), anchor:dy, range:[0,p.xmax], dtick:p.xdt, tick0:0,
      title:{text:'Time (hr)', font:titleFont, standoff:2}});
  layout['yaxis'+dS] = Object.assign({}, axisBase, {domain:yd(p.r), anchor:dx, range:[0,p.ymax], dtick:p.ydt, tick0:0,
      title:{text:'Discharge (m<sup>3</sup>/s)', font:ytFont, standoff:4}});
  layout['xaxis'+rIdx] = Object.assign({}, axisBase, {domain:xd(p.c), anchor:ry, range:[0,p.xmax], dtick:p.xdt, tick0:0,
      title:{text:'Time (hr)', font:titleFont, standoff:2}});
  layout['yaxis'+rIdx] = Object.assign({}, axisBase, {domain:yd(p.r+1), anchor:rx, range:[-1000,1000], dtick:500, tick0:-1000,
      title:{text:'Residual (m<sup>3</sup>/s)', font:ytFont, standoff:4}});
  traces.push({type:'scatter', mode:'lines', x:X(p.ens), y:Y(p.ens), xaxis:dx, yaxis:dy,
    name:legendNames[1], line:{color:'#b3b3b3', width:p.spiky?1:4}, hoverinfo:'skip'});
  traces.push({type:'scatter', mode:'lines', x:X(p.mean), y:Y(p.mean), xaxis:dx, yaxis:dy,
    name:legendNames[2], line:{color:'#555', width:1.2}});
  traces.push({type:'scatter', mode:'lines', x:X(p.obs), y:Y(p.obs), xaxis:dx, yaxis:dy,
    name:legendNames[0], line:{color:'#111', width:2}});
  traces.push({type:'scatter', mode:'lines', x:X(p.res), y:Y(p.res), xaxis:rx, yaxis:ry,
    name:'Residual', line:{color:'#111', width:1}});
});

// compact legend box inside the first panel (top-left)
layout.shapes.push({type:'rect', xref:'paper', yref:'paper', x0:px(37), x1:px(196), y0:py(34), y1:py(9),
  fillcolor:'#fff', line:{width:0}, layer:'above'});
const legStyle = [{color:'#111',width:2.5,dash:'solid'},{color:'#999',width:1,dash:'dot'},{color:'#666',width:1.2,dash:'solid'}];
const legY = [14, 22, 29];
legendNames.forEach((n,i)=>{
  layout.shapes.push({type:'line', xref:'paper', yref:'paper', x0:px(40), x1:px(54), y0:py(legY[i]), y1:py(legY[i]),
    line:legStyle[i], layer:'above'});
  layout.annotations.push({text:n, xref:'paper', yref:'paper', x:px(57), y:py(legY[i]), xanchor:'left', yanchor:'middle',
    showarrow:false, font:{family:'Arial, Liberation Sans', size:6, color:'#444'}});
});

// station labels
const labelPos = [[324,25],[674,25],[323,248],[674,255],[323,476],[674,471]];
stationNames.forEach((s,i)=>{
  layout.annotations.push({text:'<b><i>'+s+'</i></b>', xref:'paper', yref:'paper',
    x:px(labelPos[i][0]), y:py(labelPos[i][1]), xanchor:'right', yanchor:'middle', showarrow:false,
    font:{family:'Arial, Liberation Sans', size:20, color:'#000'}});
});
// captions
[[170,662],[500,662]].forEach((pt,i)=>{
  layout.annotations.push({text:captions[i], xref:'paper', yref:'paper', x:px(pt[0]), y:py(pt[1]),
    xanchor:'center', yanchor:'middle', showarrow:false,
    font:{family:'Noto Sans CJK KR, DejaVu Sans', size:10.5, color:'#222'}});
});

Plotly.newPlot('chart', traces, layout, {staticPlot:true, displayModeBar:false});
</script>
</body></html>
